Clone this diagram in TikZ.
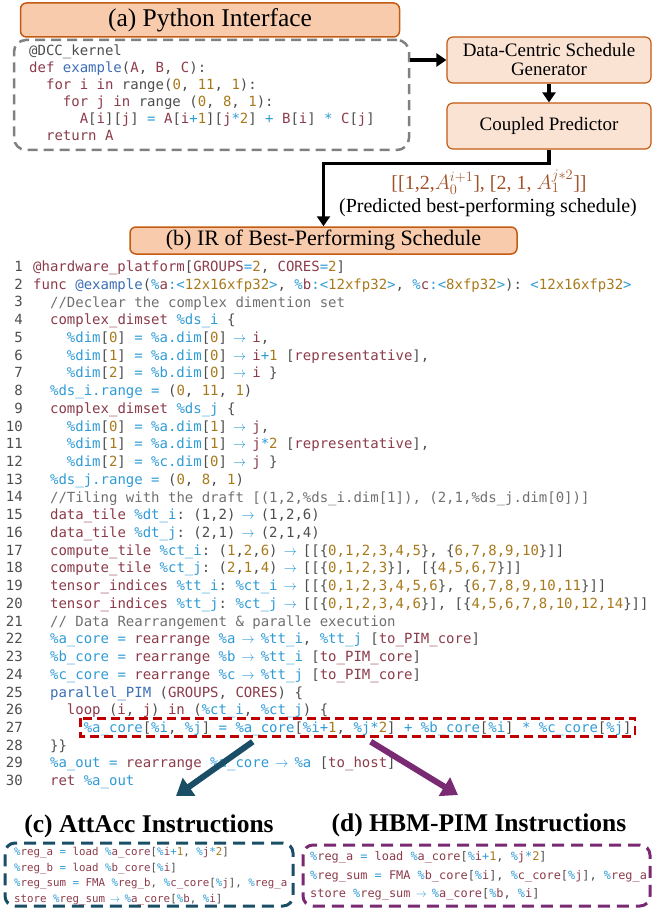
\documentclass[tikz,border=0pt]{standalone}
\usepackage{fontspec}
\setmainfont{Liberation Serif}
\setmonofont{DejaVu Sans Mono}
\usetikzlibrary{arrows.meta,positioning}

\definecolor{hdrfill}{HTML}{F8CBAD}
\definecolor{hdrdraw}{HTML}{C55A11}
\definecolor{stagefill}{HTML}{FBE3D4}
\definecolor{schedc}{HTML}{A0532B}
\definecolor{attc}{HTML}{1A4E66}
\definecolor{hbmc}{HTML}{7A2A72}
\definecolor{hlred}{HTML}{C00000}
\definecolor{boxgray}{HTML}{808080}
\definecolor{codec}{HTML}{4D4D4D}
\definecolor{kwc}{HTML}{8C3B4B}
\definecolor{opc}{HTML}{2F9BD6}
\definecolor{numc}{HTML}{A8791B}
\definecolor{cmc}{HTML}{707070}
\definecolor{fnc}{HTML}{3C6EB4}

\newcommand\kwd[1]{\textcolor{kwc}{#1}}
\newcommand\opr[1]{\textcolor{opc}{#1}}
\newcommand\num[1]{\textcolor{numc}{#1}}
\newcommand\cmt[1]{\textcolor{cmc}{#1}}
\newcommand\fnm[1]{\textcolor{fnc}{#1}}
\newcommand\vr[1]{\opr{\%}\kwd{#1}}
\newcommand\ar{\opr{\makebox[0.602em][c]{\scalebox{0.9}[1]{$\rightarrow$}}}}

\tikzset{
  hdr/.style={draw=hdrdraw, fill=hdrfill, line width=1.5pt, rounded corners=6pt},
  stage/.style={draw=hdrdraw, fill=stagefill, line width=1.2pt, rounded corners=6pt,
    minimum width=204, minimum height=46, align=center, font=\fontsize{19}{20}\selectfont},
  pybox/.style={draw=boxgray, line width=2.5pt, dash pattern=on 10pt off 6pt, rounded corners=12pt},
  codeln/.style={anchor=base west, inner sep=0pt, text=codec, text height=10pt, text depth=3pt,
    font=\fontsize{14}{17}\ttfamily},
  lnum/.style={anchor=base east, inner sep=0pt, text=codec, font=\fontsize{14}{17}\ttfamily},
  flow/.style={line width=3.5pt, -{Triangle[length=10pt,width=13pt]}},
  bighdr/.style={font=\fontsize{25.5}{28}\bfseries\selectfont},
  insbox/.style={line width=3pt, dash pattern=on 12pt off 7pt, rounded corners=10pt},
  attln/.style={codeln, text height=8pt, text depth=2pt, font=\fontsize{10.8}{13}\ttfamily},
  hbmln/.style={codeln, text height=9pt, text depth=2pt, font=\fontsize{11.9}{14}\ttfamily},
}

\begin{document}
\begin{tikzpicture}[x=1pt, y=-1pt]
\useasboundingbox (0,0) rectangle (652,912);

% (a) python front end
\node[hdr, minimum width=379, minimum height=34, font=\fontsize{25.5}{28}\selectfont] (pyhdr) at (210,20) {(a) Python Interface};
\node[pybox, minimum width=395, minimum height=110] (pycode) at (211.5,95) {};
\node[codeln] (p1) at (29,56) {@DCC\_kernel};
\node[codeln] (p2) at (29,73) {\kwd{def} \fnm{example}(\kwd{A}, \kwd{B}, \kwd{C}):};
\node[codeln] (p3) at (45.9,90) {\kwd{for} \kwd{i} \kwd{in} range(\num{0}, \num{11}, \num{1}):};
\node[codeln] (p4) at (62.7,107) {\kwd{for} \kwd{j} \kwd{in} range (\num{0}, \num{8}, \num{1}):};
\node[codeln] (p5) at (79.6,124) {\kwd{A}[\kwd{i}][\kwd{j}] \opr{=} \kwd{A}[\kwd{i}\opr{+}\num{1}][\kwd{j}\opr{*}\num{2}] \opr{+} \kwd{B}[\kwd{i}] \opr{*} \kwd{C}[\kwd{j}]};
\node[codeln] (p6) at (45.9,141) {\kwd{return} \kwd{A}};

% schedule search
\node[stage] (dcsg) at (549,60) {Data-Centric Schedule\\[-1pt]Generator};
\node[stage] (cpred) at (549,126) {Coupled Predictor};
\draw[flow] (pycode.east |- dcsg.west) -- (dcsg.west);
\draw[flow] (dcsg) -- (cpred);

\node[hdr, minimum width=387, minimum height=27, font=\fontsize{22}{24}\selectfont] (irhdr) at (323.5,240.5) {(b) IR of Best-Performing Schedule};
\draw[flow] (cpred.south) -- ++(0,14) -| (irhdr.north);
\node[font=\fontsize{20}{22}\selectfont, text=schedc] (sched) at (489,182) {[[1,2,$A_0^{i+1}$], [2, 1, $A_1^{j*2}$]]};
\node[font=\fontsize{20}{22}\selectfont] (schedcap) at (488,208) {(Predicted best-performing schedule)};

% (b) IR listing
\foreach \n in {1,...,30}
  \node[lnum] (n\n) at (23,{271.5+(\n-1)*17.73}) {\n};

\node[codeln] (l1) at (33,271.5) {\kwd{@hardware\_platform}[\kwd{GROUPS}\opr{=}\num{2}, \kwd{CORES}\opr{=}\num{2}]};
\node[codeln] (l2) at (33,289.2) {\kwd{func} \fnm{@example}(\opr{\%}\kwd{a}\opr{:<}\num{12x16xfp32}\opr{>}, \opr{\%}\kwd{b}\opr{:<}\num{12xfp32}\opr{>}, \opr{\%}\kwd{c}\opr{:<}\num{8xfp32}\opr{>}): \opr{<}\num{12x16xfp32}\opr{>}};
\node[codeln] (l3) at (49.9,307.0) {\cmt{//Declear the complex dimention set}};
\node[codeln] (l4) at (49.9,324.7) {\kwd{complex\_dimset} \opr{\%ds\_i} \{};
\node[codeln] (l5) at (66.7,342.4) {\opr{\%dim}[\num{0}] \opr{=} \opr{\%a.dim}[\num{0}] \ar{} \kwd{i},};
\node[codeln] (l6) at (66.7,360.2) {\opr{\%dim}[\num{1}] \opr{=} \opr{\%a.dim}[\num{0}] \ar{} \kwd{i}\opr{+}\num{1} [\kwd{representative}],};
\node[codeln] (l7) at (66.7,377.9) {\opr{\%dim}[\num{2}] \opr{=} \opr{\%b.dim}[\num{0}] \ar{} \kwd{i} \}};
\node[codeln] (l8) at (49.9,395.6) {\opr{\%ds\_i.range} \opr{=} (\num{0}, \num{11}, \num{1})};
\node[codeln] (l9) at (49.9,413.3) {\kwd{complex\_dimset} \opr{\%ds\_j} \{};
\node[codeln] (l10) at (66.7,431.1) {\opr{\%dim}[\num{0}] \opr{=} \opr{\%a.dim}[\num{1}] \ar{} \kwd{j},};
\node[codeln] (l11) at (66.7,448.8) {\opr{\%dim}[\num{1}] \opr{=} \opr{\%a.dim}[\num{1}] \ar{} \kwd{j}\opr{*}\num{2} [\kwd{representative}],};
\node[codeln] (l12) at (66.7,466.5) {\opr{\%dim}[\num{2}] \opr{=} \opr{\%c.dim}[\num{0}] \ar{} \kwd{j} \}};
\node[codeln] (l13) at (49.9,484.3) {\opr{\%ds\_j.range} \opr{=} (\num{0}, \num{8}, \num{1})};
\node[codeln] (l14) at (49.9,502.0) {\cmt{//Tiling with the draft [(1,2,\%ds\_i.dim[1]), (2,1,\%ds\_j.dim[0])]}};
\node[codeln] (l15) at (49.9,519.7) {\kwd{data\_tile} \opr{\%dt\_i}: (1,2) \ar{} (1,2,6)};
\node[codeln] (l16) at (49.9,537.5) {\kwd{data\_tile} \opr{\%dt\_j}: (2,1) \ar{} (2,1,4)};
\node[codeln] (l17) at (49.9,555.2) {\kwd{compute\_tile} \opr{\%ct\_i}: (\num{1},\num{2},\num{6}) \ar{} [[\{\num{0,1,2,3,4,5}\}, \{\num{6,7,8,9,10}\}]]};
\node[codeln] (l18) at (49.9,572.9) {\kwd{compute\_tile} \opr{\%ct\_j}: (\num{2},\num{1},\num{4}) \ar{} [[\{\num{0,1,2,3}\}], [\{\num{4,5,6,7}\}]]};
\node[codeln] (l19) at (49.9,590.6) {\kwd{tensor\_indices} \opr{\%tt\_i}: \opr{\%ct\_i} \ar{} [[\{\num{0,1,2,3,4,5,6}\}, \{\num{6,7,8,9,10,11}\}]]};
\node[codeln] (l20) at (49.9,608.4) {\kwd{tensor\_indices} \opr{\%tt\_j}: \opr{\%ct\_j} \ar{} [[\{\num{0,1,2,3,4,6}\}], [\{\num{4,5,6,7,8,10,12,14}\}]]};
\node[codeln] (l21) at (49.9,626.1) {\cmt{// Data Rearrangement \& paralle execution}};
\node[codeln] (l22) at (49.9,643.8) {\opr{\%a\_core} \opr{=} \kwd{rearrange} \opr{\%a} \ar{} \opr{\%tt\_i}, \opr{\%tt\_j} [\kwd{to\_PIM\_core}]};
\node[codeln] (l23) at (49.9,661.6) {\opr{\%b\_core} \opr{=} \kwd{rearrange} \opr{\%b} \ar{} \opr{\%tt\_i} [\kwd{to\_PIM\_core}]};
\node[codeln] (l24) at (49.9,679.3) {\opr{\%c\_core} \opr{=} \kwd{rearrange} \opr{\%c} \ar{} \opr{\%tt\_j} [\kwd{to\_PIM\_core}]};
\node[codeln] (l25) at (49.9,697.0) {\fnm{parallel\_PIM} (\kwd{GROUPS}, \kwd{CORES}) \{};
\node[codeln] (l26) at (66.7,714.8) {\kwd{loop} (\kwd{i}, \kwd{j}) \kwd{in} (\opr{\%ct\_i}, \opr{\%ct\_j}) \{};
\node[codeln] (l27) at (83.6,732.5) {\opr{\%a\_core}[\opr{\%i}, \opr{\%j}] \opr{=} \opr{\%a\_core}[\opr{\%i+}\num{1}, \opr{\%j*}\num{2}] \opr{+} \opr{\%b\_core}[\opr{\%i}] \opr{*} \opr{\%c\_core}[\opr{\%j}]};
\node[codeln] (l28) at (49.9,750.2) {\}\}};
\node[codeln] (l29) at (49.9,767.9) {\opr{\%a\_out} \opr{=} \kwd{rearrange} \opr{\%a\_core} \ar{} \opr{\%a} [\kwd{to\_host}]};
\node[codeln] (l30) at (49.9,785.7) {\kwd{ret} \opr{\%a\_out}};

\draw[hlred, line width=2.6pt, dash pattern=on 9pt off 5pt] ([shift={(-3,-4)}]l27.north west) rectangle ([shift={(3,1)}]l27.south east); % kernel statement

% lowering to the two targets
\coordinate (atttip) at (176,796);
\coordinate (hbmtip) at (458,795);
\draw[attc, line width=6pt, -{Triangle[length=16pt,width=21pt]}] ([shift={(-105,6)}]l27.south) -- (atttip);
\draw[hbmc, line width=6pt, -{Triangle[length=16pt,width=21pt]}] ([shift={(13,6)}]l27.south) -- (hbmtip);

\node[bighdr] (atthdr) at (149,826) {(c) AttAcc Instructions};
\node[bighdr] (hbmhdr) at (479,825) {(d) HBM-PIM Instructions};

\node[insbox, draw=attc, minimum width=288, minimum height=63] (attcode) at (149,874.5) {};
\node[attln] (c1) at (14,855.5) {\vr{reg\_a} \opr{=} \kwd{load} \vr{a\_core}[\vr{i}\opr{+}\num{1}, \vr{j}\opr{*}\num{2}]};
\node[attln] (c2) at (14,871) {\vr{reg\_b} \opr{=} \kwd{load} \vr{b\_core}[\vr{i}]};
\node[attln] (c3) at (14,886.5) {\vr{reg\_sum} \opr{=} \kwd{FMA} \vr{reg\_b}, \vr{c\_core}[\vr{j}], \vr{reg\_a}};
\node[attln] (c4) at (14,902) {\kwd{store} \vr{reg\_sum} \ar{} \vr{a\_core}[\vr{b}, \vr{i}]};

\node[insbox, draw=hbmc, minimum width=347, minimum height=61] (hbmcode) at (476.5,875.5) {};
\node[hbmln] (d1) at (310,860.5) {\vr{reg\_a} \opr{=} \kwd{load} \vr{a\_core}[\vr{i}\opr{+}\num{1}, \vr{j}\opr{*}\num{2}]};
\node[hbmln] (d2) at (310,879) {\vr{reg\_sum} \opr{=} \kwd{FMA} \vr{b\_core}[\vr{i}], \vr{c\_core}[\vr{j}], \vr{reg\_a}};
\node[hbmln] (d3) at (310,897.5) {\kwd{store} \vr{reg\_sum} \ar{} \vr{a\_core}[\vr{b}, \vr{i}]};
\end{tikzpicture}
\end{document}
